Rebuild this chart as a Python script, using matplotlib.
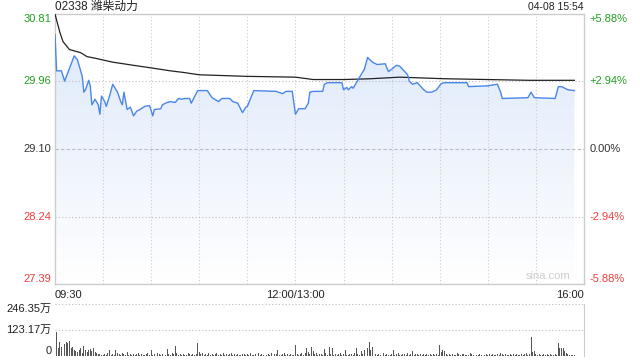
import numpy as np
import matplotlib
matplotlib.use('Agg')
import matplotlib.pyplot as plt
from matplotlib.colors import LinearSegmentedColormap
from matplotlib.patches import Polygon

plt.rcParams['font.family'] = ['Liberation Sans', 'Noto Sans CJK SC', 'DejaVu Sans']

# trading minutes since 09:30 (09:30-12:00, 13:00-16:00 => 330 minutes)
price_minutes = [0, 1, 4, 6, 12, 14, 17, 18, 19, 21, 22, 23, 25, 27, 28, 29, 31, 32, 34, 36,
                 39, 41, 42, 43, 45, 47, 49, 51, 53, 56, 59, 61, 62, 66, 67, 70, 72, 75, 77, 79,
                 81, 84, 85, 89, 95, 98, 102, 104, 109, 111, 114, 117, 119, 120, 123, 124, 138, 142, 144, 148,
                 150, 152, 156, 158, 159, 161, 167, 168, 170, 179, 180, 182, 183, 185, 186, 190, 193, 195, 198, 201,
                 206, 208, 210, 213, 215, 220, 221, 223, 226, 230, 232, 235, 238, 241, 243, 257, 258, 270, 276, 278,
                 279, 295, 297, 299, 312, 314, 316, 320, 324]
prices = [30.55, 30.09, 30.09, 29.96, 30.28, 30.23, 30.02, 29.82, 29.85, 29.97, 29.90, 29.66, 29.73, 29.66, 29.54, 29.77, 29.70, 29.64, 29.77, 29.92,
          29.82, 29.70, 29.66, 29.82, 29.60, 29.63, 29.52, 29.58, 29.60, 29.64, 29.65, 29.52, 29.60, 29.61, 29.66, 29.69, 29.70, 29.69, 29.74, 29.73,
          29.74, 29.74, 29.68, 29.84, 29.84, 29.75, 29.70, 29.74, 29.74, 29.70, 29.68, 29.56, 29.63, 29.64, 29.79, 29.84, 29.83, 29.80, 29.83, 29.83,
          29.54, 29.61, 29.61, 29.68, 29.82, 29.83, 29.83, 29.92, 29.94, 29.94, 29.85, 29.88, 29.85, 29.89, 29.87, 30.01, 30.11, 30.26, 30.20, 30.17,
          30.18, 30.08, 30.11, 30.16, 30.15, 30.04, 29.96, 29.92, 29.94, 29.85, 29.82, 29.82, 29.85, 29.93, 29.94, 29.94, 29.89, 29.90, 29.92, 29.82,
          29.74, 29.75, 29.82, 29.75, 29.74, 29.89, 29.89, 29.85, 29.84]

avg_minutes = [0, 3, 5, 9, 16, 20, 25, 36, 49, 59, 72, 80, 90, 120, 150, 161, 180, 197, 215, 243, 296, 324]
avg_prices = [30.81, 30.58, 30.46, 30.36, 30.32, 30.27, 30.25, 30.20, 30.16, 30.13, 30.09, 30.07, 30.04, 30.02, 30.01,
              29.98, 29.98, 29.99, 30.01, 29.99, 29.97, 29.97]

# volume per minute, in 万
volume = [246, 115, 40, 68, 44, 52, 55, 68, 60, 71, 39, 44, 28, 24, 18, 28, 36, 15, 49, 28, 20, 28, 33, 25, 36, 20, 12, 8, 10, 6,
          5, 9, 6, 12, 28, 7, 10, 5, 28, 12, 8, 6, 14, 9, 5, 20, 7, 11, 6, 9, 5, 8, 13, 6, 10, 5, 7, 9, 12, 6,
          28, 6, 9, 5, 12, 8, 6, 10, 14, 7, 33, 9, 5, 16, 8, 49, 12, 6, 9, 5, 11, 7, 6, 13, 8, 5, 10, 6, 9, 63,
          20, 8, 12, 6, 9, 5, 14, 7, 10, 6, 8, 15, 5, 9, 7, 12, 6, 10, 5, 8, 13, 6, 9, 5, 11, 7, 6, 10, 8, 5,
          9, 6, 12, 7, 5, 10, 8, 14, 6, 9, 5, 11, 7, 8, 6, 12, 5, 9, 10, 28, 7, 6, 9, 12, 5, 8, 6, 10, 7, 5,
          52, 10, 6, 9, 12, 7, 15, 38, 20, 9, 43, 25, 8, 14, 6, 10, 9, 7, 33, 12, 6, 44, 9, 39, 7, 10, 5, 8, 12, 6,
          9, 28, 7, 5, 10, 8, 6, 12, 39, 9, 7, 25, 10, 30, 8, 36, 68, 30, 44, 22, 9, 6, 10, 5, 8, 12, 6, 9, 5, 7,
          10, 28, 6, 9, 14, 7, 5, 10, 8, 6, 12, 7, 9, 22, 5, 8, 10, 6, 9, 7, 11, 5, 8, 6, 10, 7, 9, 5, 8, 6,
          52, 20, 30, 22, 8, 6, 10, 5, 9, 7, 6, 12, 8, 5, 9, 10, 6, 7, 5, 16, 8, 6, 9, 5, 7, 10, 6, 8, 5, 9,
          6, 8, 5, 10, 7, 6, 9, 5, 14, 8, 6, 10, 5, 7, 9, 6, 8, 5, 10, 6, 7, 9, 5, 8, 12, 6, 9, 92, 20, 25,
          8, 6, 10, 5, 7, 9, 6, 8, 5, 10, 7, 6, 9, 5, 63, 36, 40, 38, 25, 12, 8, 6, 5, 7, 6]

price_ticks = [30.81, 29.96, 29.10, 28.24, 27.39]
price_labels = ['30.81', '29.96', '29.10', '28.24', '27.39']
pct_labels = ['+5.88%', '+2.94%', '0.00%', '-2.94%', '-5.88%']
label_colors = ['#22a022', '#22a022', '#333333', '#f23c3c', '#f23c3c']
vol_ticks = [246.35, 123.17, 0]
vol_labels = ['246.35万', '123.17万', '0']
time_labels = ['09:30', '12:00/13:00', '16:00']
time_pos = [0, 150, 330]

W, H = 640, 360
fig = plt.figure(figsize=(6.4, 3.6), dpi=100)
ax = fig.add_axes([55 / W, (H - 284) / H, 529 / W, 270 / H])
axv = fig.add_axes([55 / W, 4 / H, 529 / W, 52 / H])

ymin, ymax = 27.39, 30.81
ax.set_xlim(0, 330)
ax.set_ylim(ymin, ymax)

# gradient fill under the price line
cmap = LinearSegmentedColormap.from_list('fill', ['#ffffff', '#dce8fa'])
grad = np.linspace(0, 1, 256).reshape(-1, 1)
img = ax.imshow(grad, extent=[0, 330, ymin, ymax], origin='lower', aspect='auto', cmap=cmap, zorder=1)
poly_pts = list(zip(price_minutes, prices)) + [(price_minutes[-1], ymin), (price_minutes[0], ymin)]
poly = Polygon(poly_pts, closed=True, facecolor='none', edgecolor='none', transform=ax.transData)
ax.add_patch(poly)
img.set_clip_path(poly)

# grid
for m in range(30, 330, 30):
    ax.axvline(m, color='#cccccc', lw=0.8, ls=(0, (1, 2)), zorder=2)
for v in price_ticks[1:-1]:
    ax.axhline(v, color='#bbbbbb', lw=0.8, ls=(0, (3, 2)) if v == 29.10 else (0, (1, 2)), zorder=2)

ax.plot(price_minutes, prices, color='#4a86e8', lw=1.0, zorder=4)
ax.plot(avg_minutes, avg_prices, color='#222222', lw=0.9, zorder=3)

ax.set_xticks([])
ax.set_yticks([])
for s in ax.spines.values():
    s.set_color('#cccccc')
    s.set_linewidth(1)

for i, (v, lab, pct, c) in enumerate(zip(price_ticks, price_labels, pct_labels, label_colors)):
    va = 'top' if i == 0 else ('bottom' if i == len(price_ticks) - 1 else 'center')
    ax.text(-0.007, v, lab, transform=ax.get_yaxis_transform(), ha='right', va=va, color=c, fontsize=8)
    ax.text(1.011, v, pct, transform=ax.get_yaxis_transform(), ha='left', va=va, color=c, fontsize=8)

for lab, m, ha in zip(time_labels, time_pos, ['left', 'center', 'right']):
    ax.text(m, -0.022, lab, transform=ax.get_xaxis_transform(), ha=ha, va='top', color='#222222', fontsize=8)

ax.text(0, 1.004, '02338 潍柴动力', transform=ax.transAxes, ha='left', va='bottom', fontsize=8.5, color='#222222')
ax.text(1, 1.008, '04-08 15:54', transform=ax.transAxes, ha='right', va='bottom', fontsize=7.5, color='#222222')
ax.text(0.975, 0.01, 'sina.com', transform=ax.transAxes, ha='right', va='bottom', fontsize=8, color='#cccccc')

# volume panel
axv.set_xlim(0, 330)
axv.set_ylim(0, 246.35)
axv.bar(np.arange(len(volume)), volume, width=0.6, color='#555555', zorder=3)
axv.axhline(246.35, color='#bbbbbb', lw=0.8, ls=(0, (1, 2)))
axv.axhline(123.17, color='#bbbbbb', lw=0.8, ls=(0, (1, 2)))
axv.set_xticks([])
axv.set_yticks([])
for k in ['top', 'bottom', 'left']:
    axv.spines[k].set_visible(False)
axv.spines['right'].set_color('#cccccc')
for v, lab, va in zip(vol_ticks, vol_labels, ['top', 'center', 'bottom']):
    axv.text(-0.007, v, lab, transform=axv.get_yaxis_transform(), ha='right', va=va, fontsize=8, color='#222222')

fig.savefig('out.png', dpi=100)
